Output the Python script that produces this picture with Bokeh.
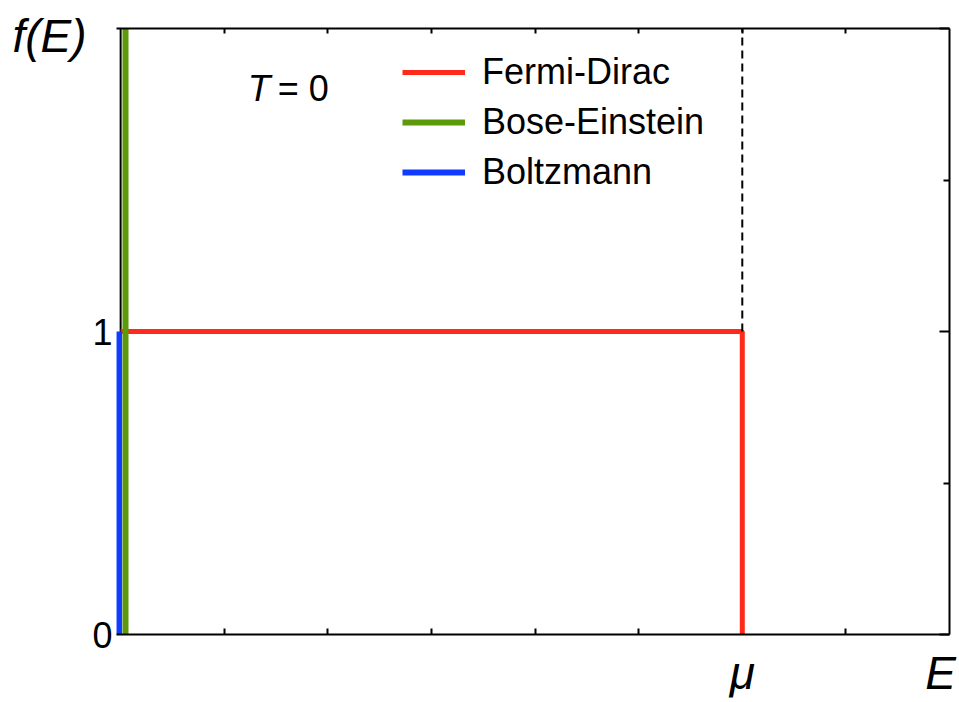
from bokeh.plotting import figure
from bokeh.models import (ColumnDataSource, Range1d, LinearAxis, FixedTicker,
                          Legend, LegendItem, Label, Span)
from bokeh.transform import dodge
from bokeh.embed import file_html
from bokeh.resources import INLINE

# ---- data ----
fermi_E = [0, 6, 6]
fermi_f = [1, 1, 0]
bose_E = [0, 0]
bose_f = [0, 2]
boltz_E = [0, 0]
boltz_f = [0, 1]
mu_E = [6, 6]
mu_f = [1, 2]
x_minor_ticks = [1, 2, 3, 4, 5, 7]
x_label_ticks = [6, 7.915]
x_tick_labels = {6: "μ", 7.915: "E"}
y_major_ticks = [0, 1]
y_minor_ticks = [0.5, 1.5]
y_title_tick = [1.975]
y_title = {1.975: "f(E)"}
series_names = ["Fermi-Dirac", "Bose-Einstein", "Boltzmann"]

RED = "#ff2a1a"
GREEN = "#5c9a0c"
BLUE = "#0f3cff"
FONT = "Liberation Sans"

p = figure(width=959, height=702, x_range=Range1d(-0.04, 8), y_range=Range1d(0, 2),
           output_backend="svg", toolbar_location=None,
           x_axis_location=None, y_axis_location=None,
           min_border_left=116, min_border_right=10, min_border_top=28,
           min_border_bottom=68)
p.outline_line_color = None
p.grid.visible = False
p.background_fill_color = "white"

# axes
bottom = LinearAxis(ticker=FixedTicker(ticks=x_label_ticks, minor_ticks=x_minor_ticks),
                    major_label_overrides=x_tick_labels,
                    major_tick_in=0, major_tick_out=0, minor_tick_in=6, minor_tick_out=0,
                    axis_line_width=2, major_tick_line_width=2, minor_tick_line_width=2,
                    major_label_standoff=12,
                    major_label_text_font=FONT, major_label_text_font_size="46px",
                    major_label_text_font_style="italic", major_label_text_color="black")
p.add_layout(bottom, "below")

top = LinearAxis(ticker=FixedTicker(ticks=x_minor_ticks + [6]),
                 major_tick_in=5, major_tick_out=0, axis_line_width=2,
                 major_tick_line_width=2, major_label_text_font_size="0px",
                 major_label_text_color=None, major_label_standoff=0)
p.add_layout(top, "above")

left = LinearAxis(ticker=FixedTicker(ticks=y_major_ticks),
                  axis_line_color=None, major_tick_in=0, major_tick_out=0,
                  major_label_standoff=4,
                  major_label_text_font=FONT, major_label_text_font_size="36px",
                  major_label_text_color="black")
p.add_layout(left, "left")

left_title = LinearAxis(ticker=FixedTicker(ticks=y_title_tick),
                        major_label_overrides=y_title,
                        axis_line_color=None, major_tick_in=0, major_tick_out=0,
                        major_label_standoff=3,
                        major_label_text_font=FONT, major_label_text_font_size="46px",
                        major_label_text_font_style="italic",
                        major_label_text_color="black")
p.add_layout(left_title, "left")

right = LinearAxis(ticker=FixedTicker(ticks=y_major_ticks + [2], minor_ticks=y_minor_ticks),
                   major_tick_in=10, major_tick_out=0, minor_tick_in=6, minor_tick_out=0,
                   axis_line_width=2, major_tick_line_width=2, minor_tick_line_width=2,
                   major_label_text_font_size="0px", major_label_text_color=None,
                   major_label_standoff=0)
p.add_layout(right, "right")

# left spine at E = 0
p.add_layout(Span(location=0, dimension="height", line_color="black",
                  line_width=2, level="underlay"))

# curves
src_fd = ColumnDataSource(dict(x=fermi_E, y=fermi_f))
src_be = ColumnDataSource(dict(x=bose_E, y=bose_f))
src_bz = ColumnDataSource(dict(x=boltz_E, y=boltz_f))
src_mu = ColumnDataSource(dict(x=mu_E, y=mu_f))

r_fd = p.line(x="x", y="y", source=src_fd, line_color=RED, line_width=5)
p.line(x="x", y="y", source=src_mu, line_color="black", line_width=2, line_dash="8 5")
r_bz = p.line(x=dodge("x", -0.015), y="y", source=src_bz, line_color=BLUE, line_width=6)
r_be = p.line(x=dodge("x", 0.047), y="y", source=src_be, line_color=GREEN, line_width=6)

legend = Legend(items=[LegendItem(label=series_names[0], renderers=[r_fd]),
                       LegendItem(label=series_names[1], renderers=[r_be]),
                       LegendItem(label=series_names[2], renderers=[r_bz])],
                location=(286, 440), glyph_width=63, glyph_height=44, label_height=44,
                spacing=6, padding=0, margin=0, label_standoff=17,
                border_line_color=None, background_fill_alpha=0,
                label_text_font=FONT, label_text_font_size="36px",
                label_text_color="black")
p.add_layout(legend)

# "T = 0" inside the frame, anchored to its top-left corner (E=0, f=2)
def lab(text, dx, dy, size, style="normal"):
    p.add_layout(Label(x=0, y=2, x_offset=dx, y_offset=dy, text=text,
                       text_font=FONT, text_font_size=size, text_font_style=style,
                       text_color="black", text_align="left",
                       text_baseline="alphabetic"))

lab("T", 127, -60, "37px", "italic")
lab("= 0", 157, -60, "36px")

open("out.html", "w").write(file_html(p, INLINE))
